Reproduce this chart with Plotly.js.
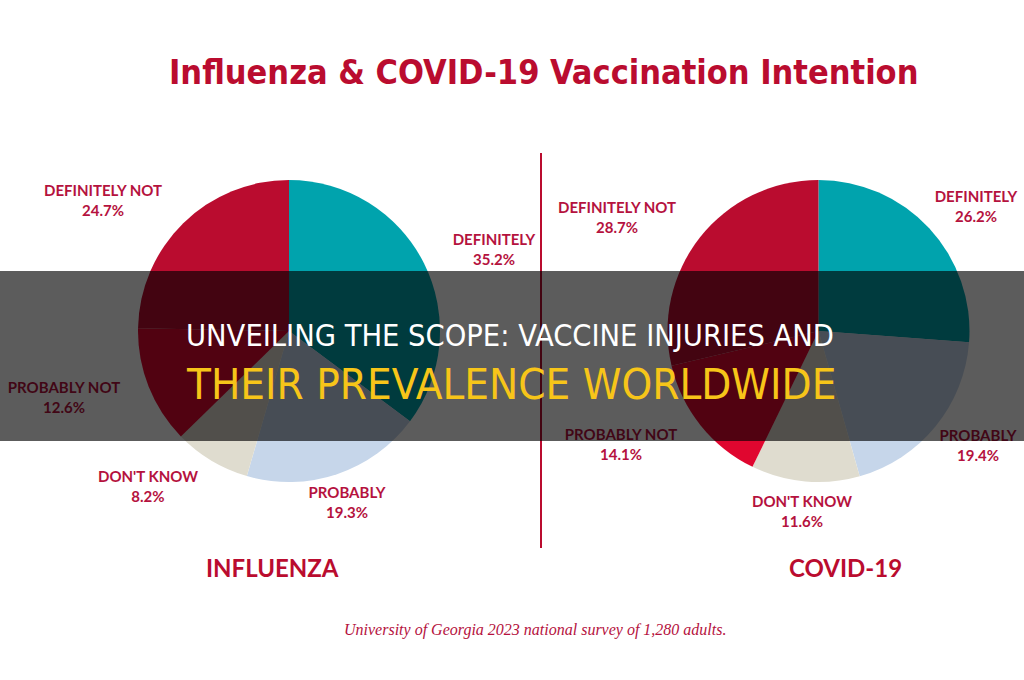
<!DOCTYPE html>
<html>
<head>
<meta charset="utf-8">
<script src="https://cdn.plot.ly/plotly-3.0.1.min.js"></script>
<style>html,body{margin:0;padding:0;background:#fff;}#chart{width:1024px;height:680px;}</style>
</head>
<body>
<div id="chart"></div>
<script>
// ---- data ----
const categories = ['DEFINITELY', 'PROBABLY', "DON'T KNOW", 'PROBABLY NOT', 'DEFINITELY NOT'];
const influenzaValues = [35.2, 19.3, 8.2, 12.6, 24.7];
const covidValues = [26.2, 19.4, 11.6, 14.1, 28.7];
const chartNames = ['INFLUENZA', 'COVID-19'];
const titleText = 'Influenza & COVID-19 Vaccination Intention';
const headlineLine1 = 'UNVEILING THE SCOPE: VACCINE INJURIES AND';
const headlineLine2 = 'THEIR PREVALENCE WORLDWIDE';
const sourceText = 'University of Georgia 2023 national survey of 1,280 adults.';

// ---- styles / layout config ----
const sliceColors = ['#00a3ad', '#c6d6ea', '#dfdccf', '#e0062f', '#ba0c2f'];
const crimson = '#b5123e';
const condensed = 'Liberation Sans Narrow, DejaVu Sans Condensed, sans-serif';
const labelPos = {
  influenza: [[494, 251], [347, 504], [148, 488], [64, 399], [103, 202]],
  covid: [[976, 208], [978, 447], [802, 513], [621, 446], [617, 219]]
};

function labelTrace(values, pos) {
  return {
    type: 'scatter', mode: 'text', xaxis: 'x', yaxis: 'y',
    x: pos.map(p => p[0]), y: pos.map(p => p[1]),
    text: categories.map((c, i) => c + '<br>' + values[i].toFixed(1) + '%'),
    textposition: 'middle center',
    textfont: {family: 'Lato, sans-serif', size: 15, color: crimson, weight: 700},
    hoverinfo: 'none', showlegend: false, cliponaxis: false
  };
}

function pieTrace(values, dx) {
  return {
    type: 'pie', values: values, labels: categories, sort: false,
    direction: 'clockwise', rotation: 0, textinfo: 'none', hoverinfo: 'label+percent',
    marker: {colors: sliceColors, line: {width: 0}},
    domain: {x: [dx[0] / 1024, dx[1] / 1024], y: [1 - 482 / 680, 1 - 180 / 680]},
    showlegend: false
  };
}

const data = [
  labelTrace(influenzaValues, labelPos.influenza),
  labelTrace(covidValues, labelPos.covid),
  pieTrace(influenzaValues, [137, 441]),
  pieTrace(covidValues, [667, 970])
];

const layout = {
  width: 1024, height: 680,
  margin: {l: 0, r: 0, t: 0, b: 0},
  paper_bgcolor: '#ffffff', plot_bgcolor: 'rgba(0,0,0,0)',
  showlegend: false,
  xaxis: {range: [0, 1024], visible: false, fixedrange: true},
  yaxis: {range: [680, 0], visible: false, fixedrange: true},
  shapes: [
    {type: 'line', xref: 'x', yref: 'y', x0: 541, x1: 541, y0: 153, y1: 548,
     line: {color: '#ba0c2f', width: 2}, layer: 'above'},
    {type: 'rect', xref: 'paper', yref: 'y', x0: 0, x1: 1, y0: 271, y1: 441,
     fillcolor: 'rgba(0,0,0,0.64)', line: {width: 0}, layer: 'above'}
  ],
  annotations: [
    {text: titleText, x: 543, y: 72, xref: 'x', yref: 'y', showarrow: false,
     font: {family: condensed, size: 34, color: '#ba0c2f', weight: 700}},
    {text: headlineLine1, x: 510, y: 335, xref: 'x', yref: 'y', showarrow: false,
     font: {family: condensed, size: 30.5, color: '#ffffff'}},
    {text: headlineLine2, x: 511, y: 384, xref: 'x', yref: 'y', showarrow: false,
     font: {family: condensed, size: 43.5, color: '#f7c519'}},
    {text: chartNames[0], x: 272, y: 567, xref: 'x', yref: 'y', showarrow: false,
     font: {family: 'Lato, sans-serif', size: 24, color: '#ba0c2f', weight: 700}},
    {text: chartNames[1], x: 845, y: 567, xref: 'x', yref: 'y', showarrow: false,
     font: {family: 'Lato, sans-serif', size: 24, color: '#ba0c2f', weight: 700}},
    {text: sourceText, x: 535, y: 630, xref: 'x', yref: 'y', showarrow: false,
     font: {family: 'Liberation Serif, serif', size: 16, color: '#b5123e', style: 'italic'}}
  ]
};

Plotly.newPlot('chart', data, layout, {displayModeBar: false, staticPlot: true});
</script>
</body>
</html>
